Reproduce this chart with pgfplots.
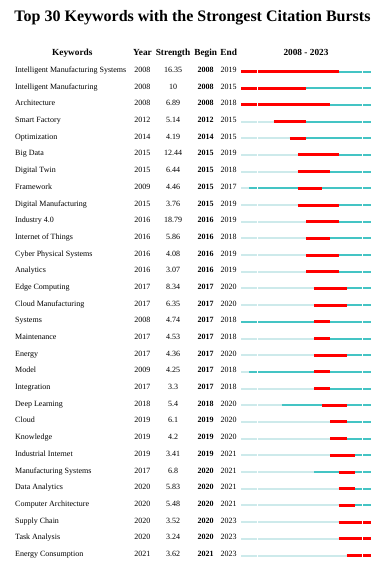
\documentclass[border=0pt]{standalone}
\usepackage{pgfplots}
\usepackage{pgfplotstable}
\usepackage{fontspec}
\setmainfont{Liberation Serif}
\pgfplotsset{compat=1.18}
\definecolor{lightc}{RGB}{205,234,235}
\definecolor{tealc}{RGB}{68,196,196}
\definecolor{burst}{RGB}{255,0,0}
\pgfplotstableread{
row first begin end
1 2008 2008 2019
2 2008 2008 2015
3 2008 2008 2018
4 2012 2012 2015
5 2014 2014 2015
6 2015 2015 2019
7 2015 2015 2018
8 2009 2015 2017
9 2015 2015 2019
10 2016 2016 2019
11 2016 2016 2018
12 2016 2016 2019
13 2016 2016 2019
14 2017 2017 2020
15 2017 2017 2020
16 2008 2017 2018
17 2017 2017 2018
18 2017 2017 2020
19 2009 2017 2018
20 2017 2017 2018
21 2013 2018 2020
22 2019 2019 2020
23 2019 2019 2020
24 2019 2019 2021
25 2017 2020 2021
26 2020 2020 2021
27 2020 2020 2021
28 2020 2020 2023
29 2020 2020 2023
30 2021 2021 2023
}\bursts
\begin{document}
\begin{tikzpicture}[every node/.append style={inner sep=0pt}]
\path[use as bounding box] (0pt,0pt) rectangle (385pt,-564pt);
% title
\node[anchor=base, font=\fontsize{16}{18}\selectfont\bfseries] at (192.5pt,-22pt) {Top 30 Keywords with the Strongest Citation Bursts};
% headers
\begin{scope}[every node/.style={anchor=base, inner sep=0pt, font=\fontsize{9.3}{11}\selectfont\bfseries}]
\node at (72.3pt,-55.5pt) {Keywords};
\node at (142.5pt,-55.5pt) {Year};
\node at (173pt,-55.5pt) {Strength};
\node at (205.7pt,-55.5pt) {Begin};
\node at (228.7pt,-55.5pt) {End};
\node at (306pt,-55.5pt) {2008 - 2023};
\end{scope}
% rows
\foreach \i/\k/\yr/\s/\b/\e in {
1/Intelligent Manufacturing Systems/2008/16.35/2008/2019,
2/Intelligent Manufacturing/2008/10/2008/2015,
3/Architecture/2008/6.89/2008/2018,
4/Smart Factory/2012/5.14/2012/2015,
5/Optimization/2014/4.19/2014/2015,
6/Big Data/2015/12.44/2015/2019,
7/Digital Twin/2015/6.44/2015/2018,
8/Framework/2009/4.46/2015/2017,
9/Digital Manufacturing/2015/3.76/2015/2019,
10/Industry 4.0/2016/18.79/2016/2019,
11/Internet of Things/2016/5.86/2016/2018,
12/Cyber Physical Systems/2016/4.08/2016/2019,
13/Analytics/2016/3.07/2016/2019,
14/Edge Computing/2017/8.34/2017/2020,
15/Cloud Manufacturing/2017/6.35/2017/2020,
16/Systems/2008/4.74/2017/2018,
17/Maintenance/2017/4.53/2017/2018,
18/Energy/2017/4.36/2017/2020,
19/Model/2009/4.25/2017/2018,
20/Integration/2017/3.3/2017/2018,
21/Deep Learning/2018/5.4/2018/2020,
22/Cloud/2019/6.1/2019/2020,
23/Knowledge/2019/4.2/2019/2020,
24/Industrial Internet/2019/3.41/2019/2021,
25/Manufacturing Systems/2017/6.8/2020/2021,
26/Data Analytics/2020/5.83/2020/2021,
27/Computer Architecture/2020/5.48/2020/2021,
28/Supply Chain/2020/3.52/2020/2023,
29/Task Analysis/2020/3.24/2020/2023,
30/Energy Consumption/2021/3.62/2021/2023}{
\pgfmathsetmacro\yy{-72.5-16.69*(\i-1)}
\node[anchor=base west, font=\fontsize{8}{9.5}\selectfont] at (15pt,\yy pt) {\k};
\node[anchor=base, font=\fontsize{8}{9.5}\selectfont] at (142.3pt,\yy pt) {\yr};
\node[anchor=base, font=\fontsize{8}{9.5}\selectfont] at (173pt,\yy pt) {\s};
\node[anchor=base, font=\fontsize{8}{9.5}\selectfont\bfseries] at (205.5pt,\yy pt) {\b};
\node[anchor=base, font=\fontsize{8}{9.5}\selectfont] at (228.7pt,\yy pt) {\e};
}
\begin{axis}[
  at={(241pt,-71.5pt)}, anchor=north west,
  scale only axis, width=130pt, height=484pt,
  xmin=2008, xmax=2024, ymin=1, ymax=30, y dir=reverse,
  hide axis, clip=false, enlargelimits=false]
\addplot[draw=none, no markers, error bars/.cd, x dir=plus, x explicit, error mark=none,
  error bar style={draw=lightc, line width=2pt}]
  table[x expr=2008, y=row, x error expr=\thisrow{first}-2008] {\bursts};
\addplot[draw=none, no markers, error bars/.cd, x dir=plus, x explicit, error mark=none,
  error bar style={draw=tealc, line width=2pt}]
  table[x=first, y=row, x error expr=2024-\thisrow{first}] {\bursts};
\addplot[draw=none, no markers, error bars/.cd, x dir=plus, x explicit, error mark=none,
  error bar style={draw=burst, line width=3pt}]
  table[x=begin, y=row, x error expr=\thisrow{end}+1-\thisrow{begin}] {\bursts};
\draw[white, line width=0.9pt] (axis cs:2010,0.6) -- (axis cs:2010,30.4);
\draw[white, line width=0.9pt] (axis cs:2023,0.6) -- (axis cs:2023,30.4);
\end{axis}
\end{tikzpicture}
\end{document}
